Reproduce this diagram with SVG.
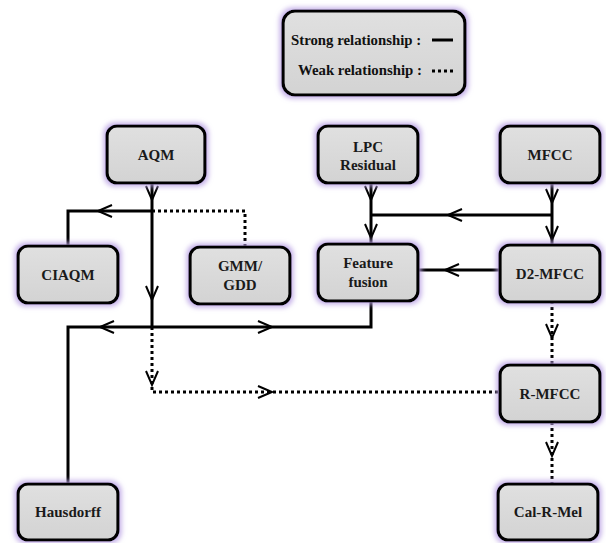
<svg xmlns="http://www.w3.org/2000/svg" width="606" height="543" viewBox="0 0 606 543">
<defs>
<filter id="glow" x="-20%" y="-20%" width="140%" height="140%">
<feMorphology in="SourceAlpha" operator="dilate" radius="2" result="m"/>
<feGaussianBlur in="m" stdDeviation="2.5" result="b"/>
<feFlood flood-color="#b9a1e4" flood-opacity="0.85" result="c"/>
<feComposite in="c" in2="b" operator="in" result="g"/>
<feMerge><feMergeNode in="g"/><feMergeNode in="SourceGraphic"/></feMerge>
</filter>
<linearGradient id="fillg" x1="0" y1="0" x2="0" y2="1">
<stop offset="0" stop-color="#e0e0e0"/>
<stop offset="1" stop-color="#d3d3d3"/>
</linearGradient>
</defs>
<style>
.box{fill:url(#fillg);stroke:#000;stroke-width:3.2;filter:url(#glow)}
.t{font-family:"Liberation Serif","Times New Roman",serif;font-weight:bold;font-size:15px;fill:#1a1a1a;text-anchor:middle}
.lt{font-family:"Liberation Serif","Times New Roman",serif;font-weight:bold;font-size:14.8px;fill:#111}
.s{fill:none;stroke:#000;stroke-width:3}
.d{fill:none;stroke:#000;stroke-width:3;stroke-dasharray:3 3}
.a{fill:none;stroke:#000;stroke-width:2}
</style>
<g id="legend">
<rect class="box" x="283" y="11" width="182" height="84" rx="12"/>
<text class="lt" x="291" y="45">Strong relationship :</text>
<text class="lt" x="298" y="75">Weak relationship :</text>
<line x1="432" y1="40" x2="453" y2="40" stroke="#000" stroke-width="3"/>
<line x1="432" y1="71" x2="453" y2="71" stroke="#000" stroke-width="3" stroke-dasharray="3 3"/>
</g>
<g id="connectors">
<path class="s" d="M152,183 V327"/>
<path class="s" d="M152,211 H68 V246"/>
<path class="s" d="M371,183 V244"/>
<path class="s" d="M552,183 V245"/>
<path class="s" d="M552,215 H371"/>
<path class="s" d="M500,270 H418"/>
<path class="s" d="M371,301 V327 H68 V484"/>
<path class="d" d="M152,211 H245 V247"/>
<path class="d" d="M152,327 V392 H500"/>
<path class="d" d="M552,301 V365"/>
<path class="d" d="M552,422 V484"/>
<path class="a" d="M146,186 L152,200 L158,186"/>
<path class="a" d="M146,286 L152,300 L158,286"/>
<path class="a" d="M112,205 L98,211 L112,217"/>
<path class="a" d="M365,186 L371,200 L377,186"/>
<path class="a" d="M365,224 L371,238 L377,224"/>
<path class="a" d="M546,189 L552,203 L558,189"/>
<path class="a" d="M546,226 L552,240 L558,226"/>
<path class="a" d="M462,209 L448,215 L462,221"/>
<path class="a" d="M459,264 L445,270 L459,276"/>
<path class="a" d="M114,321 L100,327 L114,333"/>
<path class="a" d="M258,321 L272,327 L258,333"/>
<path class="a" d="M146,371 L152,385 L158,371"/>
<path class="a" d="M258,386 L272,392 L258,398"/>
<path class="a" d="M546,324 L552,338 L558,324"/>
<path class="a" d="M546,442 L552,456 L558,442"/>
</g>
<g id="AQM"><rect class="box" x="107" y="126" width="98" height="57" rx="10"/><text class="t" x="156" y="160">AQM</text></g>
<g id="LPC"><rect class="box" x="318" y="126" width="100" height="57" rx="10"/><text class="t" x="368" y="152">LPC</text><text class="t" x="368" y="170">Residual</text></g>
<g id="MFCC"><rect class="box" x="500" y="126" width="100" height="57" rx="10"/><text class="t" x="550" y="160">MFCC</text></g>
<g id="CIAQM"><rect class="box" x="18" y="246" width="100" height="57" rx="10"/><text class="t" x="68" y="280">CIAQM</text></g>
<g id="GMM"><rect class="box" x="190" y="247" width="100" height="57" rx="10"/><text class="t" x="240" y="271">GMM/</text><text class="t" x="240" y="290">GDD</text></g>
<g id="FeatureFusion"><rect class="box" x="318" y="244" width="100" height="57" rx="10"/><text class="t" x="368" y="268">Feature</text><text class="t" x="368" y="287">fusion</text></g>
<g id="D2MFCC"><rect class="box" x="500" y="245" width="100" height="57" rx="10"/><text class="t" x="550" y="279">D2-MFCC</text></g>
<g id="RMFCC"><rect class="box" x="500" y="365" width="100" height="57" rx="10"/><text class="t" x="550" y="399">R-MFCC</text></g>
<g id="Hausdorff"><rect class="box" x="18" y="484" width="100" height="56" rx="10"/><text class="t" x="68" y="517">Hausdorff</text></g>
<g id="CalRMel"><rect class="box" x="498" y="484" width="100" height="56" rx="10"/><text class="t" x="548" y="517">Cal-R-Mel</text></g>
</svg>
